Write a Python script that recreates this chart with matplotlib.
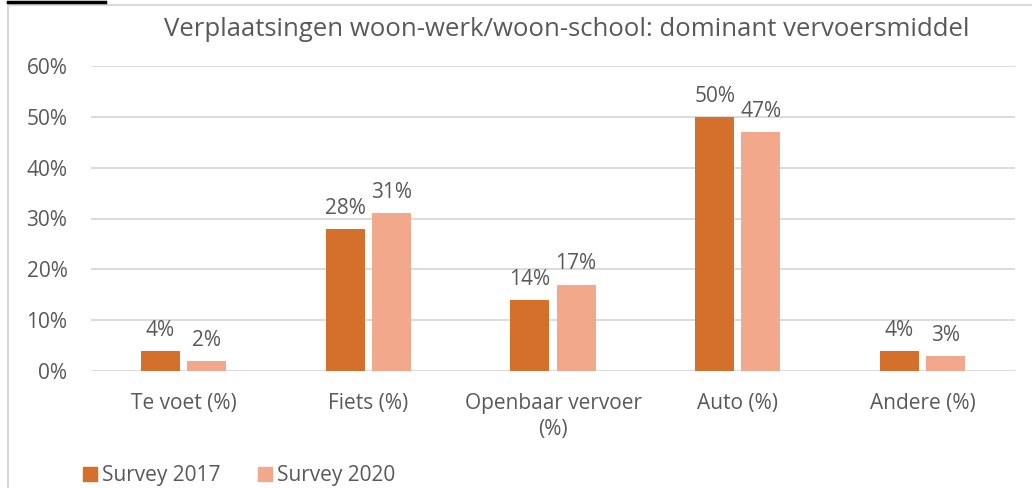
import numpy as np
import matplotlib
matplotlib.use("Agg")
from matplotlib import pyplot as plt
from matplotlib.patches import Rectangle
from matplotlib.lines import Line2D

categories = ["Te voet (%)", "Fiets (%)", "Openbaar vervoer\n(%)", "Auto (%)", "Andere (%)"]
survey_2017 = [4, 28, 14, 50, 4]
survey_2020 = [2, 31, 17, 47, 3]
series_names = ["Survey 2017", "Survey 2020"]
yticks = [0, 10, 20, 30, 40, 50, 60]

c17 = "#D4702B"
c20 = "#F2A88B"
txt = "#595959"

plt.rcParams["font.family"] = ["Open Sans", "DejaVu Sans"]

fig = plt.figure(figsize=(10.32, 4.88), dpi=100)
ax = fig.add_axes([91/1032, 1 - 371/488, 924/1032, 305/488])

x = np.arange(len(categories))
w = 0.21
off = 0.125
b1 = ax.bar(x - off, survey_2017, w, color=c17, zorder=3)
b2 = ax.bar(x + off, survey_2020, w, color=c20, zorder=3)
for bars, vals in ((b1, survey_2017), (b2, survey_2020)):
    for r, v in zip(bars, vals):
        ax.text(r.get_x() + r.get_width()/2, v + 2.0, f"{v}%", ha="center", va="bottom",
                fontsize=15, color=txt)

ax.set_xlim(-0.5, len(categories) - 0.5)
ax.set_ylim(0, 60)
ax.set_yticks(yticks)
ax.set_yticklabels([f"{t}%" for t in yticks])
ax.set_xticks(x)
ax.set_xticklabels(categories, linespacing=1.3)
ax.tick_params(length=0, labelsize=15, colors=txt)
ax.tick_params(axis="y", pad=17)
ax.tick_params(axis="x", pad=16)
ax.grid(axis="y", color="#D9D9D9", linewidth=1.3, zorder=0)
for s in ax.spines.values():
    s.set_visible(False)

fig.text(567/1032, 1 - 30/488, "Verplaatsingen woon-werk/woon-school: dominant vervoersmiddel",
         ha="center", va="center", fontsize=18.5, color=txt)

# legend
for i, (name, col) in enumerate(zip(series_names, [c17, c20])):
    x0 = [83, 258][i]
    fig.patches.append(Rectangle((x0/1032, 1 - 481/488), 14/1032, 14/488, transform=fig.transFigure,
                                 color=col, figure=fig))
    fig.text((x0 + 19)/1032, 1 - 475/488, name, ha="left", va="center", fontsize=15, color=txt)

# outer frame
fig.lines.append(Line2D([8/1032, 8/1032, 1.01], [-0.01, 1 - 5/488, 1 - 5/488], transform=fig.transFigure,
                        color="#D9D9D9", linewidth=1.5, figure=fig))
fig.lines.append(Line2D([8/1032, 105/1032], [1 - 2/488, 1 - 2/488], transform=fig.transFigure,
                        color="black", linewidth=2.5, figure=fig))

fig.savefig("out.png", dpi=100)
